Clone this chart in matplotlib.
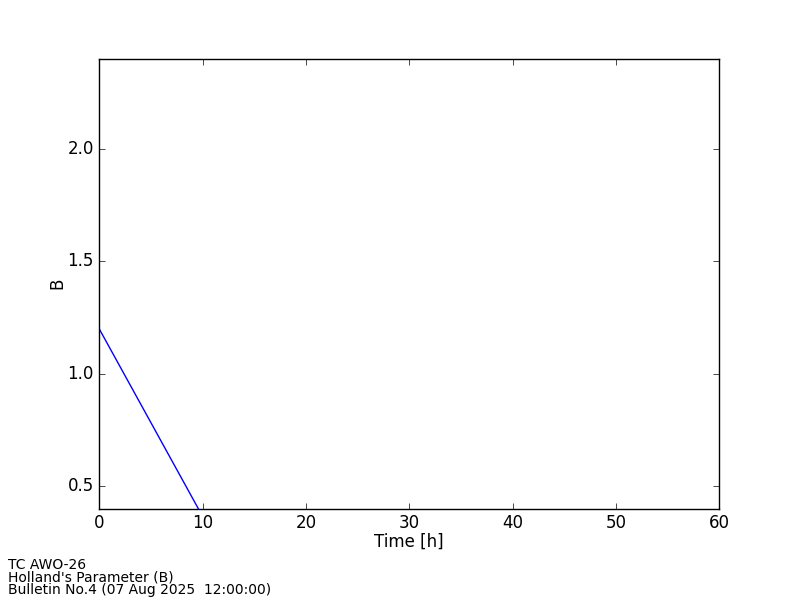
import matplotlib
matplotlib.use("Agg")
import matplotlib.pyplot as plt

# Datos
tiempo_h = [0, 12]
parametro_b = [1.2, 0.2]

etiqueta_tc = "TC AWO-26"
etiqueta_param = "Holland's Parameter (B)"
etiqueta_boletin = "Bulletin No.4 (07 Aug 2025  12:00:00)"

plt.style.use("classic")
fig = plt.figure(figsize=(8, 6), dpi=100, facecolor="white")
ax = fig.add_axes([0.124, 0.152, 0.775, 0.75])

ax.plot(tiempo_h, parametro_b, color="b", linewidth=1)

ax.set_xlim(0, 60)
ax.set_ylim(0.4, 2.4)
ax.set_yticks([0.5, 1.0, 1.5, 2.0])
ax.set_xlabel("Time [h]", labelpad=0)
ax.set_ylabel("B", labelpad=0.5)

# Texto al pie, en un solo bloque de tres lineas
fig.text(0.01, 0.005, "\n".join([etiqueta_tc, etiqueta_param, etiqueta_boletin]),
         fontsize=10, va="bottom", linespacing=0.87)

fig.savefig("out.png", dpi=100, facecolor="white")
